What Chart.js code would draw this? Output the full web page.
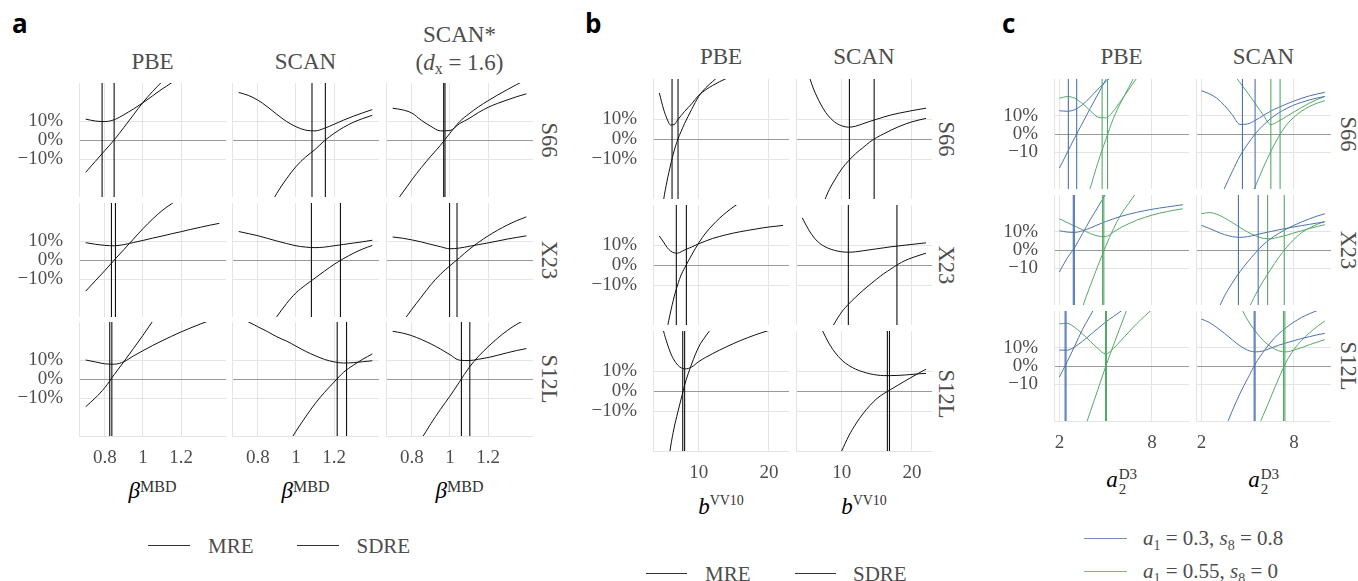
<!DOCTYPE html>
<html>
<head>
<meta charset="utf-8">
<title>Damping parameter scans</title>
<script src="https://cdn.jsdelivr.net/npm/chart.js@4.4.1/dist/chart.umd.min.js"></script>
<style>
  body { margin: 0; width: 1358px; height: 581px; background: #fff; position: relative; overflow: hidden; }
  canvas { position: absolute; }
  .lbl { position: absolute; white-space: nowrap; line-height: 1; transform: translate(-50%, -50%);
         font-family: 'Liberation Serif', serif; color: #4d4d4d; }
  .strip { font-size: 23px; }
  .rowlab { font-size: 22.5px; transform: translate(-50%, -50%) rotate(90deg); }
  .axt { font-size: 23px; color: #333; }
  .axt i { color: #000; }
  .leg { font-size: 21px; transform: translate(0, -50%); }
  .tag { position: absolute; line-height: 1; font-family: 'Open Sans', sans-serif; font-weight: 700; font-size: 26px; color: #000; }
  .rel { position: relative; }
  .legline { position: absolute; height: 1px; }
</style>
</head>
<body>
<script>
// Relative errors (%) of MRE and SDRE as a function of the damping parameter.
// Vertical markers: optimal parameter (SDRE minimum, MRE zero crossing).

// ---------- a: MBD, beta ----------
const aX = [0.7, 0.75, 0.8, 0.85, 0.9, 0.95, 1.0, 1.05, 1.1, 1.15, 1.2, 1.25, 1.3, 1.35, 1.4];
const aXTicks = [0.8, 1, 1.2];

const aS66PbeMRE = [-17, -11.3, -5.6, 0.1, 6.6, 13.2, 19.8, 25.5, 30.7, 35.5, 40, 44, 48, 52, 55];
const aS66PbeSDRE = [11, 10, 9.7, 10.7, 13.3, 16.3, 19.6, 23.2, 26.8, 30.1, 33.3, 36.3, 39, 41.5, 44];
const aS66PbeOpt = [0.786, 0.849];
const aS66ScanMRE = [-60, -52, -45, -37, -28, -20.5, -14, -9, -5, -0.3, 3.5, 6.7, 9.3, 11.3, 13];
const aS66ScanSDRE = [25, 23.5, 21, 17.5, 13.5, 9.8, 7, 5.2, 4.8, 6.2, 8.3, 10.5, 12.5, 14.3, 16];
const aS66ScanOpt = [1.084, 1.154];
const aS66StarMRE = [-35, -28, -21, -14.5, -8.5, -2.8, 3.6, 9.6, 13.8, 17.5, 20.7, 23.7, 26.5, 29.2, 31.8];
const aS66StarSDRE = [16.7, 15.9, 14.2, 10.4, 7.2, 4.8, 5.0, 8.6, 11.3, 14.5, 17.2, 19.3, 21.1, 22.8, 24.3];
const aS66StarOpt = [0.967, 0.974];

const aX23PbeMRE = [-16.4, -11, -5.6, 0, 5.5, 11, 16.5, 21.5, 26, 29.6, 33, 36, 39, 42, 45];
const aX23PbeSDRE = [9.1, 8.3, 7.7, 7.5, 8.1, 9.2, 10.3, 11.5, 12.6, 13.8, 14.9, 16.1, 17.2, 18.3, 19.3];
const aX23PbeOpt = [0.835, 0.856];
const aX23ScanMRE = [-64, -55, -46, -37.5, -29.8, -23, -17.3, -13.2, -9.5, -5.8, -2.3, 0.8, 3.5, 5.8, 7.7];
const aX23ScanSDRE = [15, 13.9, 12.8, 11.4, 10, 8.7, 7.5, 6.8, 6.5, 6.8, 7.5, 8.2, 8.9, 9.6, 10.4];
const aX23ScanOpt = [1.081, 1.233];
const aX23StarMRE = [-40, -33, -26, -19.5, -13, -7.5, -3, 1.2, 5.5, 9.3, 12.7, 15.7, 18.4, 20.7, 22.7];
const aX23StarSDRE = [12.1, 11.5, 10.6, 9.5, 8.2, 7, 5.9, 6.3, 7.2, 8.1, 9, 10, 11, 11.9, 12.7];
const aX23StarOpt = [0.998, 1.037];

const aS12lPbeMRE = [-14.6, -10, -4.6, 2.4, 9.1, 16, 23, 30.3, 37.5, 44, 50, 56, 62, 68, 74];
const aS12lPbeSDRE = [10, 9, 8, 7.8, 9.1, 12.1, 14.9, 17.6, 20.1, 22.5, 24.8, 26.9, 28.9, 30.8, 32.6];
const aS12lPbeOpt = [0.826, 0.837];
const aS12lScanMRE = [-70, -62, -55, -48, -42, -35.5, -27.5, -20, -13, -7, -1.6, 3.6, 7.2, 10.4, 13.2];
const aS12lScanSDRE = [32, 30.1, 27.5, 25, 22.2, 20, 17.3, 14.6, 12.3, 10.3, 9.0, 8.4, 8.6, 9.1, 9.6];
const aS12lScanOpt = [1.216, 1.265];
const aS12lStarMRE = [-55, -46, -38, -31.5, -23.5, -16, -9, -1.5, 6, 12, 17, 21.5, 25.5, 28.8, 31.5];
const aS12lStarSDRE = [25.1, 24.2, 22.8, 20.8, 18.5, 15.8, 12.8, 9.9, 9.7, 10.4, 11.3, 12.5, 13.8, 15, 16];
const aS12lStarOpt = [1.06, 1.104];

// ---------- b: VV10, b ----------
const bX = [4.4, 5, 5.5, 6, 6.5, 7, 7.5, 8, 9, 10, 11, 12, 13, 14, 15, 16, 17, 18, 19, 20, 21, 22];
const bXTicks = [10, 20];

const bS66PbeMRE = [-48, -30.7, -21, -13, -6, -0.5, 3.8, 7.8, 14.8, 21.3, 25.6, 28.8, 32, 35, 37.8, 40.5, 43, 45.5, 48, 50.3, 52.5, 54.6];
const bS66PbeSDRE = [23, 15, 10, 7.0, 7.2, 9.5, 11.7, 13.8, 17.6, 21.8, 24.6, 26.8, 28.7, 30.4, 32, 33.4, 34.7, 35.9, 37, 38, 39, 39.9];
const bS66PbeOpt = [6.21, 7.06];
const bS66ScanMRE = [-70, -60, -52, -45, -40, -36, -31.5, -27, -20.5, -15, -10.8, -7.3, -4.4, -1.5, 0.8, 2.6, 4.4, 6, 7.4, 8.6, 9.5, 10.3];
const bS66ScanSDRE = [42, 36, 30, 25, 21, 17.5, 14.5, 12, 8.5, 6.6, 5.9, 6.4, 7.6, 8.8, 9.9, 11, 12, 12.8, 13.5, 14.2, 14.8, 15.4];
const bS66ScanOpt = [11.1, 14.62];

const bX23PbeMRE = [-60, -42, -32, -23.5, -16, -10, -5, -1.5, 5, 11, 16, 20, 23.5, 26.5, 29.2, 31.5, 33.5, 35.3, 37, 38.5, 39.8, 41];
const bX23PbeSDRE = [14.5, 11.5, 8.8, 7, 6.1, 5.9, 6.6, 7.5, 9, 10.6, 12, 13.3, 14.3, 15.2, 16, 16.7, 17.3, 17.9, 18.5, 19, 19.4, 19.8];
const bX23PbeOpt = [6.82, 8.25];
const bX23ScanMRE = [-63, -58, -54, -50, -46, -42, -38.5, -35, -29, -23.5, -19.5, -16, -12.8, -9.8, -7, -4.3, -2, 0.3, 2.2, 3.6, 4.8, 5.9];
const bX23ScanSDRE = [23.6, 19.5, 16.5, 14, 12, 10.5, 9.4, 8.5, 7.3, 6.6, 6.4, 6.6, 7.1, 7.6, 8.1, 8.6, 9.1, 9.5, 9.9, 10.3, 10.7, 11.1];
const bX23ScanOpt = [10.95, 17.86];

const bS12lPbeMRE = [-75, -56, -41, -28, -18.5, -11, -4, 3, 13.5, 22, 27.5, 32, 35.5, 38.5, 41, 43.3, 45.3, 47.2, 49, 50.6, 52, 53.4];
const bS12lPbeSDRE = [40, 30, 24, 19, 15.5, 13, 11.6, 11, 12, 14.7, 16.8, 18.7, 20.5, 22.2, 23.8, 25.3, 26.7, 28, 29.2, 30.3, 31.3, 32.2];
const bS12lPbeOpt = [7.73, 8.0];
const bS12lScanMRE = [-80, -74, -68, -63, -58, -54, -50, -46, -37.5, -30, -22.5, -16.5, -11.5, -7.3, -3.8, -1.3, 0.8, 2.9, 5, 7, 9, 10.9];
const bS12lScanSDRE = [60, 52, 46, 41, 36, 32, 28.5, 25, 19.5, 15.5, 12.8, 10.9, 9.6, 8.6, 8, 7.7, 7.7, 7.8, 8, 8.3, 8.6, 8.8];
const bS12lScanOpt = [16.5, 16.8];

// ---------- c: D3, a2 (set 1: a1 = 0.3, s8 = 0.8; set 2: a1 = 0.55, s8 = 0) ----------
const cX = [2, 2.5, 3, 3.5, 4, 4.5, 5, 5.5, 6, 6.5, 7, 7.5, 8, 8.5, 9, 9.5, 10];
const cXTicks = [2, 8];

const cS66PbeMRE1 = [-18.6, -10.3, -1.9, 6, 14, 21.8, 29.5, 37, 44, 51, 58, 65, 72, 79, 86, 93, 100];
const cS66PbeSDRE1 = [12.7, 12.4, 13.3, 16, 20, 24.5, 28.5, 32, 35.5, 39, 42, 45, 48, 51, 54, 57, 60];
const cS66PbeOpt1 = [2.58, 3.12];
const cS66PbeMRE2 = [-75, -66, -56, -43, -29.5, -15.5, -3.2, 8.5, 17.5, 25.5, 33.5, 41, 48, 55, 62, 69, 76];
const cS66PbeSDRE2 = [19.5, 20.4, 19.5, 16.5, 12.8, 9.2, 8.8, 12.5, 18.3, 24.3, 30.3, 36, 41.5, 47, 52, 57, 62];
const cS66PbeOpt2 = [4.77, 5.12];
const cS66ScanMRE1 = [-58, -48, -39, -29.5, -20.5, -12, -5.5, 0.2, 4.7, 8.5, 11.5, 13.8, 15.8, 17.3, 18.6, 19.6, 20.5];
const cS66ScanSDRE1 = [23.6, 22, 19.5, 15.5, 10.5, 5.2, 5.5, 7.5, 10, 12.5, 14.5, 16.3, 18, 19.5, 20.8, 21.8, 22.7];
const cS66ScanOpt1 = [4.66, 5.48];
const cS66ScanMRE2 = [-87, -79, -71, -63, -55, -46, -37, -28.5, -18.5, -9.5, -1.6, 4.8, 9.2, 12.5, 15, 16.8, 18.2];
const cS66ScanSDRE2 = [70, 60, 50, 42, 34, 28, 22.4, 16.5, 10.5, 5.1, 7, 9.5, 12, 14.5, 16.8, 18.8, 20.5];
const cS66ScanOpt2 = [6.5, 7.1];

const cX23PbeMRE1 = [-12, -4.5, 1.5, 9, 16.5, 23.5, 30.5, 37, 43.5, 50, 56, 62, 68, 74, 80, 86, 92];
const cX23PbeSDRE1 = [10.5, 9.8, 9.6, 10.5, 12, 13.8, 15.5, 17, 18.4, 19.5, 20.5, 21.4, 22.2, 22.9, 23.5, 24.1, 24.7];
const cX23PbeOpt1 = [2.9, 2.97];
const cX23PbeMRE2 = [-70, -58, -44, -31, -19.5, -8.5, 2, 11.5, 19.5, 25.5, 31.5, 37, 42, 47, 52, 57, 62];
const cX23PbeSDRE2 = [17, 15, 13, 11, 9, 7.6, 7.3, 9.8, 12.3, 14.4, 16.2, 17.7, 19, 20.1, 21, 21.8, 22.5];
const cX23PbeOpt2 = [4.8, 4.88];
const cX23ScanMRE1 = [-52, -42, -34, -25, -18, -11.8, -6.5, -1.6, 2.8, 6.2, 9, 11.4, 13.5, 15.3, 17, 18.5, 19.8];
const cX23ScanSDRE1 = [13.5, 11.8, 10, 8.4, 7.3, 6.9, 7.3, 8.2, 9.2, 10.1, 11, 11.8, 12.6, 13.3, 14, 14.7, 15.3];
const cX23ScanOpt1 = [4.4, 5.68];
const cX23ScanMRE2 = [-75, -67, -60, -53, -46, -39, -32.8, -24.5, -17, -10.5, -4.2, 1.2, 5.8, 9.5, 12, 14, 15.6];
const cX23ScanSDRE2 = [19.8, 20.4, 19.5, 17.5, 15, 12.3, 9.8, 7.8, 6.4, 6.1, 7, 8, 9.3, 10.5, 11.7, 12.8, 13.8];
const cX23ScanOpt2 = [6.29, 7.37];

const cS12lPbeMRE1 = [-6, 2.3, 11, 20, 27.5, 35, 42, 49, 56, 63, 70, 77, 84, 91, 98, 105, 112];
const cS12lPbeSDRE1 = [8.7, 8.6, 10.5, 13.5, 17, 20.5, 24, 27, 30, 33, 36, 39, 42, 45, 48, 51, 54];
const cS12lPbeOpt1 = [2.37, 2.43];
const cS12lPbeMRE2 = [-75, -62.5, -50, -37.5, -25, -12.7, -0.3, 11.3, 22.5, 33.5, 44, 54, 64, 74, 84, 94, 104];
const cS12lPbeSDRE2 = [23, 23.3, 21, 17.5, 13.5, 9.5, 6.6, 9.5, 14, 18.5, 23, 27, 30.9, 34.5, 38, 41.5, 45];
const cS12lPbeOpt2 = [4.99, 5.05];
const cS12lScanMRE1 = [-62, -52, -43, -34.5, -24.5, -15, -6.8, 1.2, 7.5, 13, 17.5, 21, 24, 26.5, 28.5, 30.2, 31.4];
const cS12lScanSDRE1 = [25.6, 23.8, 21, 17.8, 14.3, 11, 8.6, 7.7, 8.2, 9.8, 11.3, 12.6, 13.8, 15, 16, 17, 17.8];
const cS12lScanOpt1 = [5.42, 5.48];
const cS12lScanMRE2 = [-90, -82, -74, -66, -58, -50, -43, -36, -27, -17, -7, 2.2, 9, 14, 18, 21.5, 24.6];
const cS12lScanSDRE2 = [60, 53, 47, 42, 38, 32.5, 25, 19, 14, 10.5, 8.3, 7.7, 8.7, 10, 11.6, 13, 14.4];
const cS12lScanOpt2 = [7.32, 7.41];

const yTicks = [-10, 0, 10];
const abYLabels = ['\u221210%', '0%', '10%'];
const cYLabels = ['\u221210', '0%', '10%'];

// ---------- styling / layout ----------
const SERIF = "'Liberation Serif', 'Times New Roman', serif";
const TEXT = '#4d4d4d';
const GRID = '#e4e4e4';
const ZERO = '#9a9a9a';
const BLACK = '#111';
const BLUE = '#4c72b0';
const GREEN = '#55a868';

const panelA = { xs: aX, xMin: 0.665, xMax: 1.435, xTicks: aXTicks, yLabels: abYLabels,
  left: [79, 232, 386], width: 147, top: [83, 203, 322], height: 114 };
const panelB = { xs: bX, xMin: 3.5, xMax: 22.85, xTicks: bXTicks, yLabels: abYLabels,
  left: [653, 796], width: 136, top: [79, 205, 331], height: 120 };
const panelC = { xs: cX, xMin: 1.65, xMax: 10.4, xTicks: cXTicks, yLabels: cYLabels,
  left: [1054, 1196], width: 135, top: [79, 195, 311], height: 110 };

function series(xs, ys) {
  return xs.map((x, i) => ({ x: x, y: ys[i] }));
}

function addPlot(p, r, c, curves, marks) {
  const showY = c === 0;
  const showX = r === p.top.length - 1;
  const padL = showY ? 70 : 0;
  const padB = showX ? 40 : 0;

  const canvas = document.createElement('canvas');
  canvas.width = p.width + padL;
  canvas.height = p.height + padB;
  canvas.style.left = (p.left[c] - padL) + 'px';
  canvas.style.top = p.top[r] + 'px';
  document.body.appendChild(canvas);

  const datasets = [];
  marks.forEach(m => m.x.forEach(v => {
    datasets.push({ data: [{ x: v, y: -100 }, { x: v, y: 100 }], borderColor: m.color, borderWidth: 1.1 });
  }));
  curves.forEach(cv => {
    datasets.push({ data: series(p.xs, cv.y), borderColor: cv.color, borderWidth: 1, cubicInterpolationMode: 'monotone' });
  });

  new Chart(canvas, {
    type: 'line',
    data: { datasets: datasets },
    options: {
      responsive: false,
      animation: false,
      devicePixelRatio: 1,
      events: [],
      layout: { padding: 0, autoPadding: false },
      elements: { point: { radius: 0 } },
      plugins: { legend: { display: false }, tooltip: { enabled: false } },
      scales: {
        x: {
          type: 'linear',
          min: p.xMin,
          max: p.xMax,
          afterBuildTicks: s => { s.ticks = p.xTicks.map(v => ({ value: v })); },
          afterFit: s => { s.height = padB; s.paddingLeft = 0; s.paddingRight = 0; },
          grid: { color: GRID, drawTicks: false },
          border: { color: GRID },
          ticks: {
            display: showX, padding: 11, autoSkip: false, maxRotation: 0,
            color: TEXT, font: { family: SERIF, size: 19 },
            callback: v => String(v)
          }
        },
        y: {
          type: 'linear',
          min: -30,
          max: 30,
          afterBuildTicks: s => { s.ticks = yTicks.map(v => ({ value: v })); },
          afterFit: s => { s.width = padL; s.paddingTop = 0; s.paddingBottom = 0; },
          grid: { color: ctx => (ctx.tick && ctx.tick.value === 0 ? ZERO : GRID), drawTicks: false },
          border: { color: GRID },
          ticks: {
            display: showY, padding: 16,
            color: TEXT, font: { family: SERIF, size: 19 },
            callback: (v, i) => p.yLabels[i]
          }
        }
      }
    }
  });
}

// panel a
[
  [[aS66PbeMRE, aS66PbeSDRE, aS66PbeOpt], [aS66ScanMRE, aS66ScanSDRE, aS66ScanOpt], [aS66StarMRE, aS66StarSDRE, aS66StarOpt]],
  [[aX23PbeMRE, aX23PbeSDRE, aX23PbeOpt], [aX23ScanMRE, aX23ScanSDRE, aX23ScanOpt], [aX23StarMRE, aX23StarSDRE, aX23StarOpt]],
  [[aS12lPbeMRE, aS12lPbeSDRE, aS12lPbeOpt], [aS12lScanMRE, aS12lScanSDRE, aS12lScanOpt], [aS12lStarMRE, aS12lStarSDRE, aS12lStarOpt]]
].forEach((row, r) => row.forEach((cell, c) => {
  addPlot(panelA, r, c, [{ y: cell[0], color: BLACK }, { y: cell[1], color: BLACK }], [{ x: cell[2], color: BLACK }]);
}));

// panel b
[
  [[bS66PbeMRE, bS66PbeSDRE, bS66PbeOpt], [bS66ScanMRE, bS66ScanSDRE, bS66ScanOpt]],
  [[bX23PbeMRE, bX23PbeSDRE, bX23PbeOpt], [bX23ScanMRE, bX23ScanSDRE, bX23ScanOpt]],
  [[bS12lPbeMRE, bS12lPbeSDRE, bS12lPbeOpt], [bS12lScanMRE, bS12lScanSDRE, bS12lScanOpt]]
].forEach((row, r) => row.forEach((cell, c) => {
  addPlot(panelB, r, c, [{ y: cell[0], color: BLACK }, { y: cell[1], color: BLACK }], [{ x: cell[2], color: BLACK }]);
}));

// panel c
[
  [[cS66PbeMRE1, cS66PbeSDRE1, cS66PbeOpt1, cS66PbeMRE2, cS66PbeSDRE2, cS66PbeOpt2],
   [cS66ScanMRE1, cS66ScanSDRE1, cS66ScanOpt1, cS66ScanMRE2, cS66ScanSDRE2, cS66ScanOpt2]],
  [[cX23PbeMRE1, cX23PbeSDRE1, cX23PbeOpt1, cX23PbeMRE2, cX23PbeSDRE2, cX23PbeOpt2],
   [cX23ScanMRE1, cX23ScanSDRE1, cX23ScanOpt1, cX23ScanMRE2, cX23ScanSDRE2, cX23ScanOpt2]],
  [[cS12lPbeMRE1, cS12lPbeSDRE1, cS12lPbeOpt1, cS12lPbeMRE2, cS12lPbeSDRE2, cS12lPbeOpt2],
   [cS12lScanMRE1, cS12lScanSDRE1, cS12lScanOpt1, cS12lScanMRE2, cS12lScanSDRE2, cS12lScanOpt2]]
].forEach((row, r) => row.forEach((cell, c) => {
  addPlot(panelC, r, c,
    [{ y: cell[0], color: BLUE }, { y: cell[1], color: BLUE }, { y: cell[3], color: GREEN }, { y: cell[4], color: GREEN }],
    [{ x: cell[2], color: BLUE }, { x: cell[5], color: GREEN }]);
}));

// ---------- text ----------
function text(html, x, y, cls) {
  const d = document.createElement('div');
  d.className = cls;
  d.innerHTML = html;
  d.style.left = x + 'px';
  d.style.top = y + 'px';
  document.body.appendChild(d);
  return d;
}
function legLine(x, y, w, color) {
  const d = document.createElement('div');
  d.className = 'legline';
  d.style.left = x + 'px';
  d.style.top = y + 'px';
  d.style.width = w + 'px';
  d.style.background = color;
  document.body.appendChild(d);
}

text('a', 12, 10, 'tag');
text('b', 585, 10, 'tag');
text('c', 1002, 10, 'tag');

// facet strips
text('PBE', 152.5, 61, 'lbl strip');
text('SCAN', 305.5, 61, 'lbl strip');
text('SCAN*', 459.5, 34, 'lbl strip');
text('(<i>d</i><span class="rel" style="font-size:16px;top:4px">x</span> = 1.6)', 459.5, 62, 'lbl strip');
text('PBE', 721, 55.5, 'lbl strip');
text('SCAN', 864, 55.5, 'lbl strip');
text('PBE', 1121.5, 56, 'lbl strip');
text('SCAN', 1263.5, 56, 'lbl strip');

// row strips
['S66', 'X23', 'S12L'].forEach((s, i) => {
  text(s, 549, panelA.top[i] + panelA.height / 2, 'lbl rowlab');
  text(s, 945.5, panelB.top[i] + panelB.height / 2 + (i === 2 ? 3 : 0), 'lbl rowlab');
  text(s, 1347.5, panelC.top[i] + panelC.height / 2, 'lbl rowlab');
});

// axis titles
panelA.left.forEach(l => {
  text('<i>β</i><span class="rel" style="font-size:16px;top:-6px">MBD</span>', l + panelA.width / 2, 490, 'lbl axt');
});
panelB.left.forEach(l => {
  text('<i>b</i><span class="rel" style="font-size:14px;top:-9px">VV10</span>', l + panelB.width / 2, 506, 'lbl axt');
});
panelC.left.forEach(l => {
  text('<i>a</i><span style="display:inline-block;position:relative;width:19px;height:0">' +
       '<span style="position:absolute;left:1px;top:-19.6px;font-size:15px">D3</span>' +
       '<span style="position:absolute;left:1px;top:-5px;font-size:15px">2</span></span>',
       l + panelC.width / 2, 479, 'lbl axt');
});

// legends
legLine(148, 545, 42, '#333');
text('MRE', 208, 545.5, 'lbl leg');
legLine(297, 545, 42, '#333');
text('SDRE', 356.5, 545.5, 'lbl leg');

legLine(646, 573, 41, '#333');
text('MRE', 705, 574, 'lbl leg');
legLine(795, 573, 41, '#333');
text('SDRE', 853, 574, 'lbl leg');

legLine(1084, 538, 43, 'rgba(76, 114, 176, 0.8)');
text('<i>a</i><span class="rel" style="font-size:14px;top:5px">1</span> = 0.3, <i>s</i><span class="rel" style="font-size:14px;top:5px">8</span> = 0.8', 1143, 538, 'lbl leg');
legLine(1084, 571, 43, 'rgba(85, 168, 104, 0.8)');
text('<i>a</i><span class="rel" style="font-size:14px;top:5px">1</span> = 0.55, <i>s</i><span class="rel" style="font-size:14px;top:5px">8</span> = 0', 1143, 570.5, 'lbl leg');
</script>
</body>
</html>
